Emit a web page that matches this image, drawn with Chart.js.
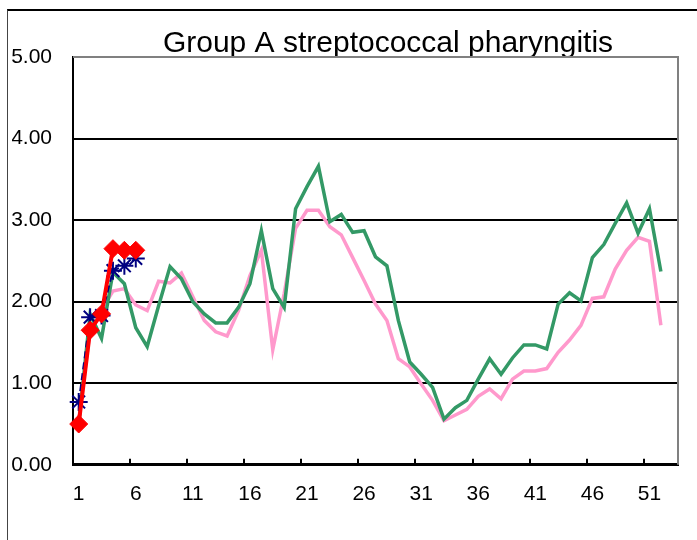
<!DOCTYPE html>
<html>
<head>
<meta charset="utf-8">
<script src="https://cdn.jsdelivr.net/npm/chart.js@4"></script>
<style>
  html, body { margin: 0; padding: 0; background: #fff; }
  #wrap { position: relative; width: 697px; height: 540px; overflow: hidden; }
  #frame { position: absolute; left: 7px; top: 9px; right: 0; bottom: 0; border-top: 2px solid #000; border-left: 1px solid #444; pointer-events: none; }
</style>
</head>
<body>
<div id="wrap">
  <canvas id="chart" width="697" height="540"></canvas>
  <div id="frame"></div>
</div>
<script>
// week numbers on the category axis (53 slots, data runs to week 52)
const weeks = ['1','2','3','4','5','6','7','8','9','10','11','12','13','14','15','16','17','18','19','20',
  '21','22','23','24','25','26','27','28','29','30','31','32','33','34','35','36','37','38','39','40',
  '41','42','43','44','45','46','47','48','49','50','51','52','53'];

// reports per sentinel
const currentYear = [0.50, 1.65, 1.85, 2.65, 2.63, 2.63];
const lastYearStart = [0.77, 1.81, 1.83, 2.38, 2.44, 2.53];
const greenSeries = [0.50, 1.85, 1.55, 2.36, 2.22, 1.68, 1.45, 1.95, 2.43, 2.28,
  2.00, 1.85, 1.74, 1.74, 1.93, 2.22, 2.87, 2.16, 1.93, 3.14,
  3.41, 3.66, 2.98, 3.07, 2.85, 2.87, 2.55, 2.44, 1.77, 1.26,
  1.11, 0.95, 0.56, 0.70, 0.79, 1.05, 1.30, 1.11, 1.31, 1.47,
  1.47, 1.42, 1.97, 2.11, 2.01, 2.54, 2.70, 2.96, 3.21, 2.84,
  3.14, 2.37];
const pinkSeries = [0.55, 1.65, 1.90, 2.13, 2.16, 1.96, 1.89, 2.25, 2.23, 2.35,
  2.06, 1.77, 1.63, 1.58, 1.89, 2.32, 2.63, 1.41, 2.10, 2.90,
  3.12, 3.12, 2.92, 2.82, 2.54, 2.26, 1.97, 1.77, 1.30, 1.20,
  0.99, 0.79, 0.54, 0.61, 0.68, 0.84, 0.93, 0.81, 1.05, 1.15,
  1.15, 1.18, 1.38, 1.53, 1.71, 2.04, 2.06, 2.40, 2.63, 2.79,
  2.74, 1.71];

const yTicks = [0, 1, 2, 3, 4, 5];

// grey border on top and right of the plot area, like the original
const plotFrame = {
  id: 'plotFrame',
  beforeDatasetsDraw(chart) {
    const { ctx, chartArea: a } = chart;
    ctx.save();
    ctx.strokeStyle = '#808080';
    ctx.lineWidth = 2;
    ctx.beginPath();
    ctx.moveTo(a.left, a.top);
    ctx.lineTo(a.right, a.top);
    ctx.lineTo(a.right, a.bottom);
    ctx.stroke();
    ctx.restore();
  },
};

Chart.defaults.font.family = '"Liberation Sans", Arial, sans-serif';
Chart.defaults.color = '#000';

new Chart(document.getElementById('chart').getContext('2d'), {
  type: 'line',
  data: {
    labels: weeks,
    datasets: [
      { label: 'This season', data: currentYear, borderColor: '#ff0000', backgroundColor: '#ff0000',
        borderWidth: 4, pointStyle: 'rectRot', pointRadius: 9, pointBorderWidth: 1, order: 0 },
      { label: 'Last season (early)', data: lastYearStart, borderColor: '#000080', backgroundColor: '#000080',
        borderWidth: 2, borderDash: [7, 4], pointStyle: 'star', pointRadius: 9, pointBorderWidth: 2, order: 1 },
      { label: 'Last season', data: greenSeries, borderColor: '#339966', borderWidth: 3.5,
        pointRadius: 0, order: 2 },
      { label: 'Average', data: pinkSeries, borderColor: '#ff99cc', borderWidth: 3.5,
        pointRadius: 0, order: 3 },
    ],
  },
  options: {
    responsive: false,
    animation: false,
    layout: { padding: { left: 12, right: 19, top: 0, bottom: 10 } },
    plugins: {
      legend: { display: false },
      tooltip: { enabled: false },
      title: {
        display: true,
        fullSize: false,
        text: '   Group A streptococcal pharyngitis',
        font: { size: 30, weight: 'normal' },
        color: '#000',
        padding: { top: 26, bottom: -5 },
      },
    },
    scales: {
      x: {
        offset: true,
        border: { color: '#000', width: 3 },
        grid: {
          offset: true,
          drawOnChartArea: false,
          drawTicks: true,
          tickLength: -6,
          lineWidth: 2,
          color: (c) => (c.index > 0 && c.index < weeks.length && c.index % 5 === 0 ? '#000' : 'rgba(0,0,0,0)'),
        },
        ticks: {
          autoSkip: false,
          maxRotation: 0,
          padding: 23,
          font: { size: 21 },
          callback: (v, i) => (i % 5 === 0 ? weeks[i] : ''),
        },
      },
      y: {
        min: yTicks[0],
        max: yTicks[yTicks.length - 1],
        border: { color: '#000', width: 2 },
        grid: {
          drawTicks: false,
          lineWidth: 2,
          color: (c) => (c.tick.value > 0 && c.tick.value < 5 ? '#000' : 'rgba(0,0,0,0)'),
        },
        ticks: {
          stepSize: 1,
          padding: 21,
          font: { size: 21 },
          callback: (v) => v.toFixed(2),
        },
        afterFit: (scale) => { scale.width = 61; },
      },
    },
  },
  plugins: [plotFrame],
});
</script>
</body>
</html>
